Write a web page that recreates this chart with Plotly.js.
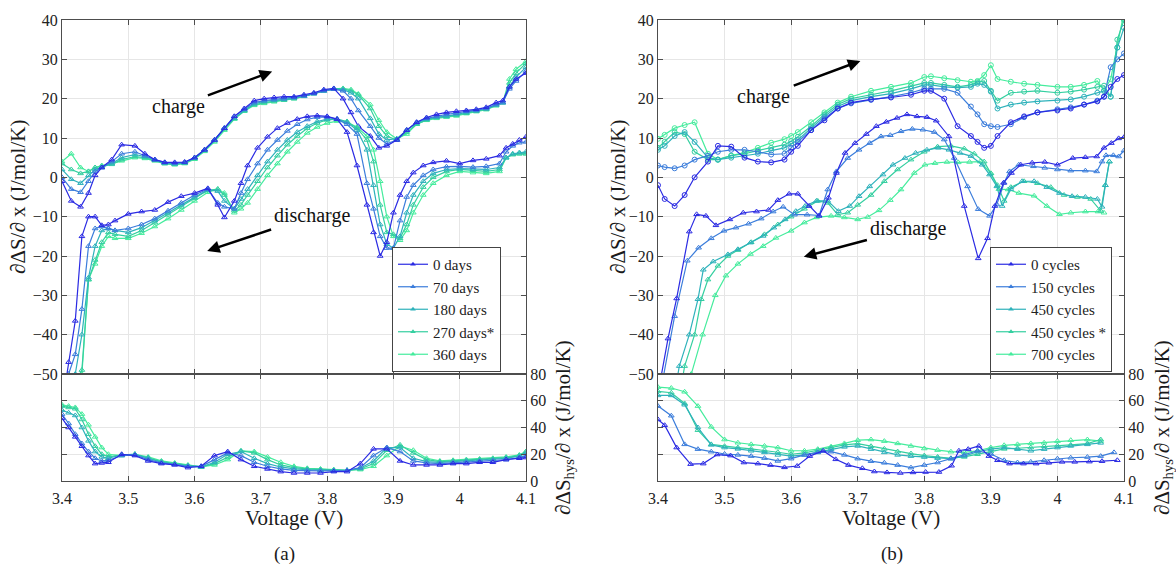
<!DOCTYPE html>
<html><head><meta charset="utf-8">
<script src="https://cdn.plot.ly/plotly-3.0.1.min.js"></script>
<style>html,body{margin:0;padding:0;background:#fff}#plot{width:1176px;height:567px}</style>
</head><body><div id="plot"></div>
<script>
// ---------- DATA ----------
const seriesA = ['0 days','70 days','180 days','270 days*','360 days'];
const seriesB = ['0 cycles','150 cycles','450 cycles','450 cycles *','700 cycles'];

const xA_ch = [3.40,3.414,3.428,3.44,3.45,3.46,3.475,3.49,3.51,3.525,3.54,3.555,3.57,3.585,3.60,3.615,3.63,3.645,3.66,3.675,3.69,3.705,3.72,3.735,3.75,3.765,3.78,3.795,3.81,3.824,3.836,3.847,3.865,3.878,3.89,3.905,3.92,3.935,3.95,3.965,3.98,3.995,4.01,4.025,4.04,4.055,4.065,4.075,4.085,4.10];
const yA_ch0 = [-1,-6,-7.5,-4,0.5,2.5,4.5,8.3,8,6,4.5,3.8,3.8,3.9,5,7,9.5,12.5,15.5,17.5,19.5,20,20.3,20.5,20.5,21,21.5,22.3,22.6,20,16.5,13,10.5,7.5,8,9.5,12,14,15.2,16,16.5,16.8,17,17.3,17.8,19,19.5,23,25,26.5];
const yA_ch1 = [0,-3,-3.8,-1,1.5,2.5,4,6,6.5,5.5,4.5,3.8,3.6,3.8,5,7,9.5,12.5,15.5,17.3,19,19.5,19.8,20,20.3,20.7,21.3,22,22.4,22,20,17,13,10,8.5,9.5,12,14,15,15.5,16,16.3,16.8,17,17.5,18.5,19,22.5,24.5,27];
const yA_ch2 = [2,-0.5,-1.5,0.5,2,2.5,3.5,5,5.8,5.3,4.5,3.6,3.4,3.7,5,7,9.5,12.5,15,17,18.7,19.3,19.6,19.8,20.2,20.7,21.3,22,22.5,22.3,21.5,20,15,11,9.5,9.8,12,13.8,14.8,15.3,15.5,16,16.5,17,17.5,18.5,19,23,25.5,28];
const yA_ch3 = [3.5,2,1,1.5,2.5,2.8,3.3,4.5,5.3,5,4.3,3.5,3.3,3.6,4.8,6.8,9.3,12.3,15,17,18.5,19,19.4,19.7,20,20.6,21.3,22,22.5,22.5,22,21,17.5,13,10.5,9.5,11.5,13.5,14.6,15.2,15.5,15.8,16.3,16.8,17.3,18.3,19,24,26.5,29];
const yA_ch4 = [4,6,2.5,1.5,2.5,3,3.5,4.2,5,4.8,4.2,3.5,3.2,3.5,4.6,6.6,9,12,14.8,16.8,18.3,18.8,19.2,19.6,20,20.6,21.3,22,22.5,22.6,22.3,21.2,18.5,14.5,11.5,9.8,11,13.5,14.5,15,15.3,15.6,16.2,16.7,17.2,18.2,19,25,27.5,29.5];

const xA_dis = [3.40,3.41,3.42,3.43,3.44,3.45,3.46,3.47,3.48,3.50,3.52,3.54,3.56,3.58,3.60,3.62,3.635,3.645,3.66,3.67,3.68,3.695,3.71,3.725,3.74,3.755,3.77,3.785,3.80,3.815,3.83,3.845,3.86,3.87,3.88,3.89,3.90,3.91,3.92,3.93,3.945,3.96,3.98,4.00,4.02,4.04,4.06,4.07,4.08,4.09,4.10];
const yA_dis0 = [-58,-47,-36.5,-15,-10,-10,-12.2,-12,-11,-9.3,-8.7,-8.3,-6.3,-4.8,-4,-2.8,-7,-10.2,-6,-1.5,3,7.5,10.3,12.5,13.8,14.8,15.5,15.7,15.5,14.8,11.5,3,-7,-14,-20,-16.5,-9,-4.5,-1,1.2,3,3.8,4.2,3.5,4.3,4.7,5.5,7.5,8.5,9.5,10.3];
const yA_dis1 = [-60,-50,-45,-33.5,-17.5,-13,-12.5,-13,-13.5,-13,-12,-10.5,-8.5,-6.5,-4.5,-3,-6.5,-7.5,-8,-4,-0.5,3.5,7,9.5,11.8,13.5,14.7,15.3,15.3,14.8,13.5,11,-1.5,-8,-15,-18,-18,-11,-5,-2,0.5,2,2.7,2.8,2.6,2.8,3.5,6.5,8,8.8,9];
const yA_dis2 = [-62,-58,-50,-40,-25.5,-17.5,-13.5,-13,-13.5,-14,-12.8,-11,-9,-7,-5,-3.2,-3.5,-6,-8,-5.5,-3,0.5,4,7,9.5,11.5,13,14.2,14.8,14.8,14,12,7,-2,-12,-17,-18,-15,-9,-4.5,-1,1,2,2.2,2.1,2,2.5,5,6,6.3,6.5];
const yA_dis3 = [-64,-60,-52,-49,-26,-21,-16.5,-14,-14.5,-15,-13.5,-11.5,-9.5,-7.5,-5.3,-3.3,-3,-4.5,-8.5,-7,-4.5,-1,2.5,5.5,8.3,10.5,12.5,13.8,14.6,14.8,14.2,12.5,9.5,4,-7,-14,-14.5,-15.5,-12,-7,-2.5,0,1.5,2,1.8,1.5,2,5,5.8,6,6];
const yA_dis4 = [-66,-62,-56,-50,-26,-22,-17.5,-15,-15.5,-15.5,-14.2,-12.5,-10.5,-8.3,-6,-3.8,-3,-4,-9,-8,-6.5,-3,0.5,3.5,6.5,9,11.3,12.8,13.8,14.3,14,12.8,10.5,7,-1,-10,-15,-16,-13.5,-9,-4.5,-1.5,0.5,1.5,1.2,1,1.5,5,5.8,6,6];

const xA_h = [3.40,3.41,3.42,3.43,3.44,3.45,3.46,3.47,3.49,3.51,3.53,3.55,3.57,3.59,3.61,3.63,3.65,3.67,3.69,3.71,3.73,3.75,3.77,3.79,3.81,3.83,3.85,3.87,3.89,3.91,3.93,3.95,3.97,3.99,4.01,4.03,4.05,4.07,4.09,4.10];
const yA_h0 = [47,40,33,26,19,13,13.5,14,20,19,15,13,12,10,11,19,22,16,11,9,7,6,6,6,7,7,13,24,24,15,12,12,12,13,13,14,14,16,17,17.5];
const yA_h1 = [50,43,35,28,22,17,15,15.5,19,19.5,16,13.5,12.5,11,11,16,21,19,14,11,9,8,7.5,7.5,7.5,8,10,19,25,22,15,13.5,13,13.5,14,14.5,15,16,17.5,19];
const yA_h2 = [53,51,49,40,30,22,18,17,19.5,20,17,14,12.5,11,10.5,14,20,22,17,13,10.5,9,8.5,8,8,8,9.5,15,25,25,17,14.5,14,14.5,15,15.5,16,17,18.5,21];
const yA_h3 = [56,55,54,46,35,26,20,18,19.5,20,17.5,14.5,13,11.5,10.5,13,18,22.5,21,16,12,10,9,8.5,8,8,9,13,23,27,21,16,14.5,15,15.5,16,16.5,17.5,19,22];
const yA_h4 = [57,56,55,50,42,33,25,20,19,20,18,15,13.5,12,10.5,12,16,22.5,22,18,14,11,9.5,9,8.5,8,8.5,11,19,26,23,17,15,15.5,16,16.5,17,18,19.5,22];

const xB_ch = [3.40,3.41,3.425,3.44,3.455,3.475,3.49,3.51,3.53,3.55,3.57,3.59,3.60,3.61,3.63,3.65,3.67,3.69,3.72,3.75,3.78,3.80,3.81,3.83,3.85,3.87,3.88,3.89,3.90,3.91,3.93,3.95,3.97,4.00,4.02,4.04,4.06,4.07,4.08,4.09,4.10];
const yB_ch0 = [-2,-5.5,-7.3,-4.5,0,4,8,7.8,5,4,3.8,4.5,6.5,8,12,14.5,17.5,19,19.8,20.3,21,22,22,20,13,10.5,9,7.5,8,10.5,14,15.5,16.5,17,17.5,18.5,19.3,20.5,23,25,26];
const yB_ch1 = [3,2.6,2.3,3,4.5,5.5,6.5,7,7,6.5,5.8,6,7.5,9,12,15,17.5,18.8,19.7,20.5,21.5,22.5,22.5,22.5,21.5,18,16,13.5,13,12.8,13.5,15.3,16.5,17.3,17.8,18.5,19.5,20.5,28,30,31.5];
const yB_ch2 = [7,8,10.5,11.5,9,5,4.5,5,5.5,6,6.8,7.5,8.5,9.5,12.5,15.5,18,19.5,20.5,21.3,22.5,23.5,23.5,23,22.8,23,23.8,23.5,21.8,17.5,18.5,19,19.3,19.5,19.8,20.5,21.5,22,20.5,33,38];
const yB_ch3 = [7.5,9,11.5,11,6.5,4.5,4.5,5.5,6,6.8,7.5,8.3,9.2,10.3,13,16,18.5,20,21,22,23.2,24,24,23.5,23,23.5,24.2,24.5,22,19.5,21.5,21.8,22,21.5,21.8,22.3,23,23.3,20.5,35,40];
const yB_ch4 = [9.8,10.8,12.5,13.3,14,6,4.5,5.5,6.3,7.5,8.8,9.7,10.5,11.5,14,16.5,19,20.5,22,23,24,25.5,25.7,25.2,24.7,24.3,24.5,26,28.5,25,24.3,23.8,23.5,23,23,23.5,24.5,22,25,33,42];

const xB_dis0 = [3.40,3.415,3.428,3.447,3.458,3.472,3.487,3.508,3.528,3.548,3.566,3.58,3.597,3.61,3.627,3.642,3.656,3.668,3.681,3.696,3.713,3.728,3.743,3.759,3.774,3.789,3.804,3.818,3.837,3.86,3.881,3.895,3.906,3.919,3.931,3.945,3.962,3.981,4.0,4.023,4.042,4.059,4.07,4.081,4.092,4.1];
const yB_dis0 = [-55,-41,-30.8,-13.8,-9.4,-9.8,-12.2,-10.7,-9,-8.7,-8.3,-5.8,-4.2,-4.2,-7.3,-9.8,-5.2,1.1,6.2,8.7,11,13,14.1,15.1,16,15.5,15.3,14.4,10.4,-7.3,-20.6,-15.5,-7.3,-1.4,1.1,3.2,3.7,3.9,3.2,4.9,5.1,5.3,7.5,8.7,9.9,10.2];
const xB_dis1 = [3.40,3.425,3.444,3.461,3.48,3.499,3.517,3.536,3.555,3.573,3.588,3.605,3.624,3.642,3.655,3.668,3.685,3.702,3.718,3.735,3.749,3.765,3.782,3.798,3.815,3.83,3.845,3.865,3.881,3.898,3.909,3.92,3.928,3.942,3.964,3.981,4.0,4.02,4.042,4.059,4.067,4.073,4.084,4.092,4.1];
const yB_dis1 = [-58,-35.3,-21.2,-17.9,-15.5,-13.6,-12.8,-11.8,-10.5,-8.7,-7.5,-9.5,-9.5,-9.7,-3.1,1.5,4.9,7,8.7,10.4,10.7,11.7,12.3,12.1,11.5,9.6,4.9,-2.3,-8.1,-9.8,-6.9,-1.4,1.5,3.2,2.8,2.4,2,1.7,1.7,1.5,4,5.6,5.6,5.3,6.8];
const xB_dis2 = [3.425,3.432,3.447,3.46,3.468,3.483,3.505,3.52,3.539,3.558,3.574,3.591,3.607,3.621,3.638,3.655,3.671,3.688,3.702,3.718,3.738,3.753,3.771,3.787,3.804,3.821,3.837,3.854,3.87,3.887,3.898,3.909,3.917,3.93,3.947,3.965,3.984,4.003,4.022,4.042,4.06,4.067,4.072,4.078];
const yB_dis2 = [-55,-48,-40,-31,-23.5,-21.4,-19.6,-18.3,-16.6,-14.9,-12.8,-10.7,-8.6,-7.3,-6,-6,-8.6,-7.3,-4.8,-2.3,0.7,3.2,4.9,6.2,7,7.5,7,6.2,5.4,3.2,0.7,-2.3,-7.3,-3,-1,-1,-2.5,-4,-4.8,-5,-5.5,-7.5,-2,4];
const xB_dis3 = [3.43,3.44,3.455,3.465,3.475,3.49,3.505,3.52,3.54,3.56,3.58,3.60,3.62,3.64,3.655,3.67,3.685,3.70,3.72,3.74,3.76,3.78,3.80,3.82,3.84,3.86,3.875,3.89,3.90,3.91,3.92,3.93,3.95,3.97,3.99,4.01,4.03,4.05,4.065,4.072,4.078];
const yB_dis3 = [-58,-48,-40,-31,-26,-22.5,-20,-18.5,-16.5,-14.5,-12,-10,-8,-6,-6.5,-9.5,-9,-7,-4.5,-1,2,4.5,6.5,7.8,8,7.3,6,4,1,-2,-6,-2.5,-1,-1.5,-2.5,-4.5,-5,-5.5,-8.5,-2,4];
const xB_dis4 = [3.445,3.45,3.467,3.486,3.502,3.52,3.539,3.558,3.577,3.60,3.62,3.638,3.66,3.68,3.70,3.715,3.732,3.749,3.765,3.785,3.801,3.816,3.834,3.851,3.868,3.884,3.90,3.912,3.926,3.942,3.965,3.984,4.003,4.02,4.042,4.061,4.07];
const yB_dis4 = [-60,-50,-40,-30,-25,-22,-19.5,-17.5,-15.4,-13.6,-11.5,-10.2,-9.8,-10.2,-10.7,-10.1,-8.4,-5.8,-3.1,1.1,3.2,3.6,3.9,3.8,3.9,4,1,-3,-3.1,-4,-4.7,-7.3,-9.4,-9,-8.7,-8.7,-9];

const xB_h0 = [3.40,3.41,3.428,3.449,3.468,3.489,3.509,3.529,3.55,3.569,3.59,3.609,3.628,3.648,3.667,3.686,3.707,3.725,3.744,3.764,3.783,3.802,3.822,3.841,3.852,3.866,3.882,3.897,3.91,3.928,3.949,3.968,3.987,4.007,4.026,4.048,4.067,4.09];
const yB_h0 = [46,41.7,25,12.6,13,19.8,19,13.8,13,11.9,10.2,11.2,18.6,22.6,16.2,11.9,9.5,7.1,6.4,6,6.4,6.7,6.7,11.4,22.6,23.8,26.2,18.6,15.5,13,13,13,13.6,14.3,14.3,14.5,14.8,15.5];
const xB_h = [3.40,3.42,3.44,3.46,3.48,3.50,3.52,3.54,3.56,3.58,3.60,3.62,3.64,3.66,3.68,3.70,3.72,3.74,3.76,3.78,3.80,3.82,3.84,3.86,3.88,3.90,3.92,3.94,3.96,3.98,4.00,4.02,4.045,4.065,4.085];
const yB_h1 = [56,48.8,27.4,23.8,21.9,20.2,19.5,18.6,17.1,15,16.7,19.5,21.4,21.9,19.5,16.7,14.8,13.6,11.9,10,11.9,13.8,16.7,19.5,22.6,20.2,15.5,13.8,14.3,15.5,16.7,17.4,17.9,18.6,21.4];
const yB_h2 = [64,64,57,40,27,25,24,22.6,21.4,19.5,18.6,19.5,21.4,23.8,25.5,26.2,23.8,21.4,19.5,18.6,17.9,17.1,16.7,18.6,21.9,23.8,25,23.8,22.6,23.8,25,26.2,27.4,28.5,null];
const yB_h3 = [67,66,58,38,27.4,26,25,24,23,21.5,20,21,23,25,27,28,26,24,22,20.5,19,18,17,18,20,22,24,24.5,25,26,26.5,27,28,31,null];
const yB_h4 = [70.2,69.5,66.7,56,40.5,31,28.6,27.4,26.2,25,22.6,22.6,23.8,25.7,28.1,30.5,31,29.8,28.1,26.2,24.3,23.1,21.9,21.4,22.6,25,26.7,27.4,28.1,28.6,29.8,30.5,31,29.8,null];

const xTicks = [3.4,3.5,3.6,3.7,3.8,3.9,4.0,4.1];
const xTickText = ['3.4','3.5','3.6','3.7','3.8','3.9','4','4.1'];

// ---------- STYLE ----------
const COLORS = ['#2b2be3','#3b7ddb','#2eb2bb','#34cfa0','#45ec9d'];
const FONT = 'Liberation Serif';
const W = 1176, H = 567;
const px = v => v / W, py = v => 1 - v / H;

const traces = [];
function add(x, y, i, sym, xa, ya, name) {
  traces.push({
    type: 'scatter', mode: 'lines+markers', x: x, y: y, xaxis: xa, yaxis: ya,
    name: name, showlegend: false,
    line: {color: COLORS[i], width: 1.2},
    marker: {symbol: sym, size: 5, color: COLORS[i], line: {color: COLORS[i], width: 1}},
    hoverinfo: 'skip'
  });
}
const aCh = [yA_ch0, yA_ch1, yA_ch2, yA_ch3, yA_ch4];
const aDis = [yA_dis0, yA_dis1, yA_dis2, yA_dis3, yA_dis4];
const aH = [yA_h0, yA_h1, yA_h2, yA_h3, yA_h4];
for (let i = 4; i >= 0; i--) {
  add(xA_ch, aCh[i], i, 'triangle-up-open', 'x', 'y', seriesA[i]);
  add(xA_h, aH[i], i, 'triangle-up-open', 'x2', 'y2', seriesA[i]);
}
for (let i = 4; i >= 0; i--) add(xA_dis, aDis[i], i, 'triangle-up-open', 'x', 'y', seriesA[i]);
for (let i = 0; i < 5; i++) traces.push({type:'scatter', mode:'lines+markers', x:[null], y:[null], xaxis:'x', yaxis:'y', name: seriesA[i], legend:'legend', showlegend:true,
  line:{color:COLORS[i], width:1.2}, marker:{symbol:'triangle-up', size:5, color:COLORS[i]}});

const bCh = [yB_ch0, yB_ch1, yB_ch2, yB_ch3, yB_ch4];
const bDisX = [xB_dis0, xB_dis1, xB_dis2, xB_dis3, xB_dis4];
const bDis = [yB_dis0, yB_dis1, yB_dis2, yB_dis3, yB_dis4];
const bHX = [xB_h0, xB_h, xB_h, xB_h, xB_h];
const bH = [yB_h0, yB_h1, yB_h2, yB_h3, yB_h4];
for (let i = 4; i >= 0; i--) {
  add(xB_ch, bCh[i], i, 'circle-open', 'x3', 'y3', seriesB[i]);
  add(bHX[i], bH[i], i, 'triangle-up-open', 'x4', 'y4', seriesB[i]);
}
for (let i = 4; i >= 0; i--) add(bDisX[i], bDis[i], i, 'triangle-up-open', 'x3', 'y3', seriesB[i]);
for (let i = 0; i < 5; i++) traces.push({type:'scatter', mode:'lines+markers', x:[null], y:[null], xaxis:'x3', yaxis:'y3', name: seriesB[i], legend:'legend2', showlegend:true,
  line:{color:COLORS[i], width:1.2}, marker:{symbol:'triangle-up', size:5, color:COLORS[i]}});

const tickFont = {family: FONT, size: 16, color: '#222'};
const base = {showline:true, linecolor:'#4d4d4d', linewidth:1, mirror:'ticks', ticks:'inside', ticklen:5,
  tickcolor:'#4d4d4d', showgrid:true, gridcolor:'#e6e6e6', gridwidth:1, zeroline:false, tickfont: tickFont, fixedrange:true};
function xax(l, r, anchor, labels) {
  return Object.assign({}, base, {domain:[px(l), px(r)], range:[3.4, 4.1], anchor: anchor,
    tickvals: xTicks, ticktext: xTickText, showticklabels: labels, ticklabelstandoff: 3});
}
const TOP = [py(374), py(20)], BOT = [py(481), py(374)];
const yTop = (anchor) => Object.assign({}, base, {domain: TOP, range:[-50, 40], dtick:10, tick0:0, anchor: anchor});
const yBot = (anchor) => Object.assign({}, base, {domain: BOT, range:[0, 80], dtick:20, tick0:0, anchor: anchor, side:'right'});

const legBase = {bgcolor:'#ffffff', bordercolor:'#444', borderwidth:1, font:{family:FONT, size:15, color:'#222'},
  xanchor:'left', yanchor:'bottom', tracegroupgap:0};

function txt(x, y, t, size, angle) {
  return {xref:'paper', yref:'paper', x: px(x), y: py(y), text: t, showarrow:false, textangle: angle || 0,
    font:{family:FONT, size:size, color:'#1a1a1a'}, xanchor:'center', yanchor:'middle'};
}
function label(xa, ya, t, tx, ty, hx, hy) {
  return {xref: xa, yref: ya, axref: xa, ayref: ya, x: hx, y: hy, ax: tx, ay: ty, text: t, showarrow:true,
    arrowhead:2, arrowsize:1, arrowwidth:2.5, arrowcolor:'#000', standoff:0, startstandoff:2,
    font:{family:FONT, size:20, color:'#111'}};
}
const yTitle = '∂ΔS/∂ x (J/mol/K)';
const yTitleH = '∂ΔS<sub>hys</sub>/∂ x (J/mol/K)';

const layout = {
  width: W, height: H, margin:{l:0, r:0, t:0, b:0}, paper_bgcolor:'#fff', plot_bgcolor:'#fff',
  showlegend: true, font:{family: FONT},
  xaxis: xax(62, 526, 'y', false), yaxis: yTop('x'),
  xaxis2: xax(62, 526, 'y2', true), yaxis2: yBot('x2'),
  xaxis3: xax(658, 1124, 'y3', false), yaxis3: yTop('x3'),
  xaxis4: xax(658, 1124, 'y4', true), yaxis4: yBot('x4'),
  legend: Object.assign({}, legBase, {x: px(392), y: py(372)}),
  legend2: Object.assign({}, legBase, {x: px(990), y: py(372)}),
  annotations: [
    txt(18, 197, yTitle, 21, -90), txt(618, 197, yTitle, 21, -90),
    txt(564, 428, yTitleH, 21, -90), txt(1163, 428, yTitleH, 21, -90),
    txt(294, 518, 'Voltage (V)', 21), txt(891, 518, 'Voltage (V)', 21),
    txt(284, 554, '(a)', 19), txt(892, 554, '(b)', 19),
    label('x', 'y', 'charge', 3.575, 18.0, 3.717, 26.9),
    label('x', 'y', 'discharge', 3.777, -9.8, 3.619, -18.7),
    label('x3', 'y3', 'charge', 3.559, 20.5, 3.704, 29.6),
    label('x3', 'y3', 'discharge', 3.776, -13.1, 3.619, -20.2)
  ]
};
Plotly.newPlot('plot', traces, layout, {staticPlot: true, displayModeBar: false});
</script></body></html>
